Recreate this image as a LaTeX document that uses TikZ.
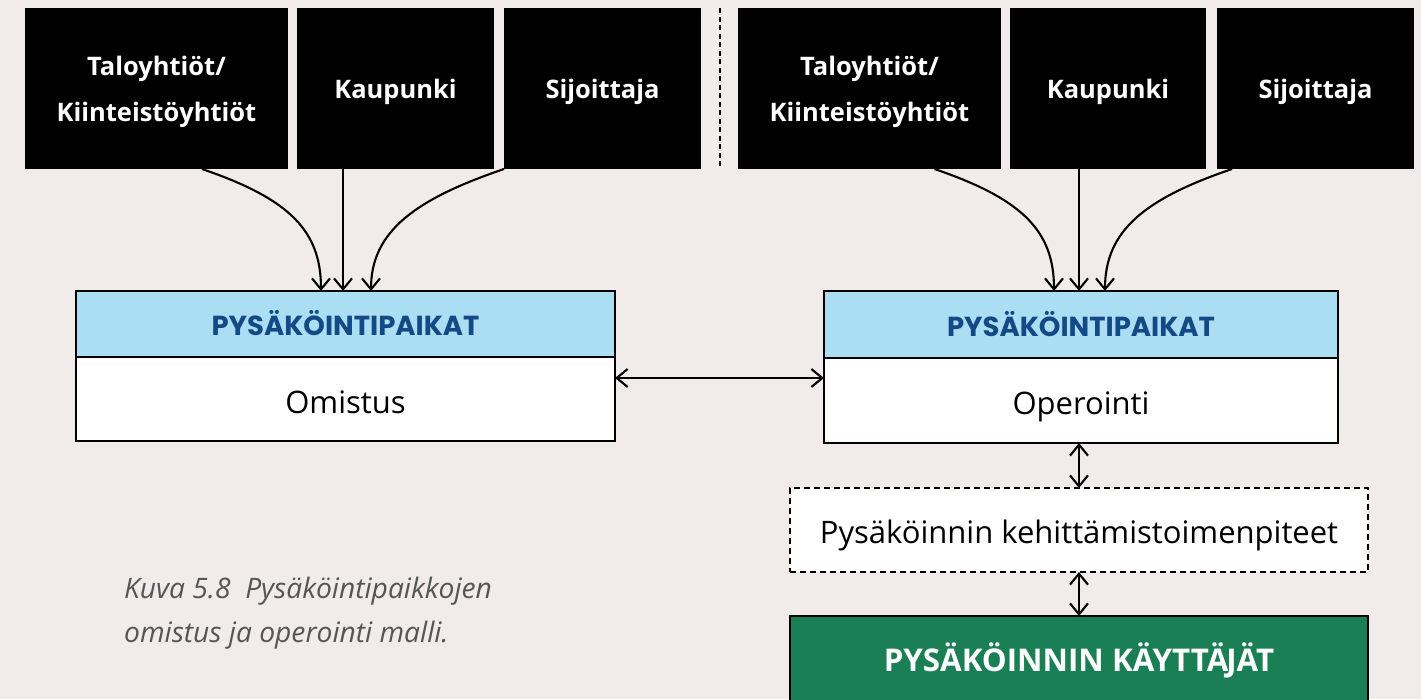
\documentclass[tikz,border=0pt]{standalone}
\usepackage{fontspec}
\setmainfont{Open Sans}
\newfontfamily\hdrfont{Poppins}
\usetikzlibrary{arrows.meta}
\definecolor{bgc}{HTML}{F1ECE9}
\definecolor{hdrblue}{HTML}{ABDEF3}
\definecolor{hdrtext}{HTML}{134A86}
\definecolor{usergreen}{HTML}{1A7F54}
\definecolor{capgray}{HTML}{555555}
\begin{document}
\begin{tikzpicture}[x=1pt,y=-1pt,
  actor/.style={fill=black,text=white,inner sep=0pt,outer sep=0pt,minimum height=161pt,
    align=center,font=\fontsize{25.5}{46}\selectfont\bfseries},
  hdr/.style={draw=black,line width=2.4pt,fill=hdrblue,text=hdrtext,inner sep=0pt,outer sep=0pt,
    text height=23pt,text depth=0pt,font=\fontsize{27.5}{30}\selectfont\hdrfont\bfseries},
  body/.style={draw=black,line width=2.4pt,fill=white,inner sep=0pt,outer sep=0pt,
    text height=28pt,text depth=0pt,font=\fontsize{31}{36}\selectfont},
  tipb/.tip={Straight Barb[length=11pt,width=18pt]},
  link/.style={line width=2.1pt,-tipb},
  both/.style={line width=2.1pt,tipb-tipb}]
\useasboundingbox (0,0) rectangle (1421,699);
\fill[bgc] (0,0) rectangle (1421,699);

% actors, left group
\node[actor,minimum width=263pt,text height=65pt,text depth=0pt] (b1) at (156.5,88.5) {Taloyhtiöt/\\Kiinteistöyhtiöt};
\node[actor,minimum width=197pt,text height=19pt,text depth=0pt] (b2) at (395.5,88.5) {Kaupunki};
\node[actor,minimum width=197pt,text height=19pt,text depth=0pt] (b3) at (602.5,88.5) {Sijoittaja};
% actors, right group
\node[actor,minimum width=263pt,text height=65pt,text depth=0pt] (b4) at (869.5,88.5) {Taloyhtiöt/\\Kiinteistöyhtiöt};
\node[actor,minimum width=196pt,text height=19pt,text depth=0pt] (b5) at (1108,88.5) {Kaupunki};
\node[actor,minimum width=197pt,text height=19pt,text depth=0pt] (b6) at (1315.5,88.5) {Sijoittaja};

% separator
\coordinate (sepT) at (720,8);
\coordinate (sepB) at (720,169);
\draw[line width=2pt,dash pattern=on 5pt off 3.5pt] (sepT) -- (sepB);

% left block
\node[body,minimum width=539pt,minimum height=84pt] (lw) at (345.5,399) {Omistus};
\node[hdr,minimum width=539pt,minimum height=66pt] (lh) at (345.5,324) {PYSÄKÖINTIPAIKAT};
% right block
\node[body,minimum width=514pt,minimum height=85pt] (rw) at (1081,400.5) {Operointi};
\node[hdr,minimum width=514pt,minimum height=67pt] (rh) at (1081,324.5) {PYSÄKÖINTIPAIKAT};

% development box
\node[draw=black,line width=2pt,dash pattern=on 6pt off 4pt,fill=white,minimum width=578pt,minimum height=84pt,
  inner sep=0pt,outer sep=0pt,text height=26pt,text depth=0pt,font=\fontsize{31}{36}\selectfont] (dev) at (1079,530) {Pysäköinnin kehittämistoimenpiteet};
% users
\node[draw=black,line width=2.4pt,fill=usergreen,text=white,minimum width=578pt,minimum height=88pt,
  inner sep=0pt,outer sep=0pt,text height=22pt,text depth=0pt,font=\fontsize{31.3}{36}\selectfont\bfseries] (users) at (1079,660) {PYSÄKÖINNIN KÄYTTÄ\kern-2pt JÄT};

% caption
\node[anchor=base west,inner sep=0pt,text=capgray,font=\fontsize{28.2}{30}\selectfont\itshape] (cap1) at (124,598) {Kuva 5.8\ \ Pysäköintipaikkojen};
\node[anchor=base west,inner sep=0pt,text=capgray,font=\fontsize{28.2}{30}\selectfont\itshape] (cap2) at (124,642) {omistus ja operointi malli.};

% left arrows
\draw[link] ([xshift=45.5pt]b1.south) .. controls +(88,30) and +(0,-60) .. ([xshift=-24.5pt]lh.north);
\draw[link] ([xshift=-52.5pt]b2.south) -- ([xshift=-2.5pt]lh.north);
\draw[link] (b3.south west) .. controls +(-88,30) and +(0,-60) .. ([xshift=25.5pt]lh.north);
% right arrows
\draw[link] ([xshift=65pt]b4.south) .. controls +(88,30) and +(0,-60) .. ([xshift=-27pt]rh.north);
\draw[link] ([xshift=-29pt]b5.south) -- ([xshift=-2pt]rh.north);
\draw[link] ([xshift=15pt]b6.south west) .. controls +(-88,30) and +(0,-60) .. ([xshift=24pt]rh.north);

% double arrows
\draw[both] ([yshift=21pt]lw.east) -- ([yshift=21pt]lw.east -| rw.west);
\draw[both] ([xshift=-2pt]rw.south) -- ([xshift=-2pt]rw.south |- dev.north);
\draw[both] (dev.south) -- (dev.south |- users.north);
\end{tikzpicture}
\end{document}
